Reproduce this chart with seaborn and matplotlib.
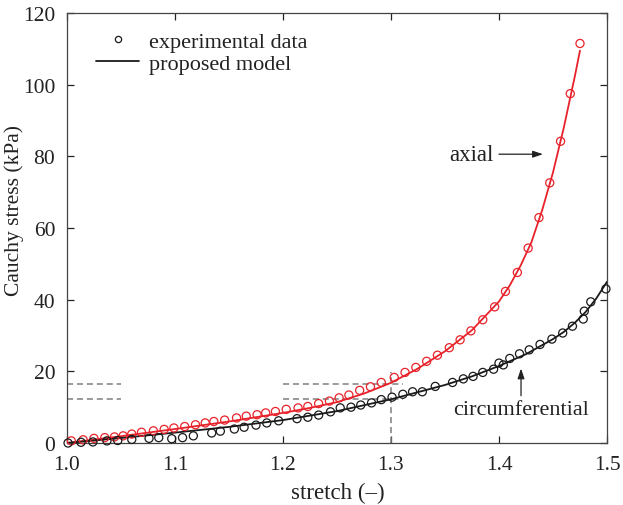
import numpy as np
import pandas as pd
import matplotlib
matplotlib.use("Agg")
import matplotlib.pyplot as plt
from matplotlib.lines import Line2D
import seaborn as sns

# ---- data ----
axial_x = [1.004, 1.015, 1.025, 1.035, 1.044, 1.052, 1.060, 1.069, 1.080, 1.090,
           1.099, 1.109, 1.119, 1.128, 1.136, 1.146, 1.157, 1.166, 1.176, 1.184,
           1.193, 1.203, 1.214, 1.223, 1.233, 1.243, 1.252, 1.261, 1.271, 1.281,
           1.291, 1.303, 1.313, 1.323, 1.333, 1.343, 1.354, 1.364, 1.374, 1.385,
           1.396, 1.406, 1.417, 1.427, 1.437, 1.447, 1.457, 1.466, 1.475]
axial_y = [0.6, 0.9, 1.3, 1.5, 1.7, 2.0, 2.5, 3.0, 3.4, 3.8,
           4.2, 4.6, 5.1, 5.6, 6.0, 6.4, 7.0, 7.5, 7.9, 8.4,
           8.8, 9.4, 9.8, 10.2, 11.0, 11.7, 12.6, 13.4, 14.7, 15.7,
           16.9, 18.3, 19.7, 21.1, 22.8, 24.5, 26.6, 28.8, 31.3, 34.4,
           38.0, 42.3, 47.6, 54.4, 62.9, 72.6, 84.2, 97.5, 111.5]

circ_x = [1.001, 1.013, 1.024, 1.037, 1.047, 1.060, 1.076, 1.085, 1.097, 1.107,
          1.117, 1.134, 1.142, 1.155, 1.164, 1.175, 1.185, 1.196, 1.213, 1.223,
          1.233, 1.244, 1.253, 1.263, 1.272, 1.282, 1.291, 1.301, 1.311, 1.320,
          1.329, 1.341, 1.357, 1.367, 1.376, 1.385, 1.395, 1.400, 1.404, 1.410,
          1.419, 1.428, 1.438, 1.449, 1.459, 1.468, 1.478, 1.479, 1.485, 1.499]
circ_y = [0.0, 0.2, 0.3, 0.6, 0.7, 1.0, 1.3, 1.5, 1.2, 1.5,
          2.0, 2.8, 3.3, 3.9, 4.4, 5.0, 5.6, 6.2, 6.8, 7.2,
          7.8, 8.7, 9.8, 10.0, 10.6, 11.2, 12.1, 12.8, 13.6, 14.3,
          14.3, 15.8, 16.9, 17.9, 18.6, 19.7, 20.6, 22.3, 21.8, 23.6,
          24.9, 26.0, 27.5, 29.0, 30.7, 32.6, 34.6, 36.8, 39.4, 43.0]

axial_model_x = [1.00, 1.05, 1.10, 1.15, 1.20, 1.225, 1.25, 1.275, 1.30, 1.325,
                 1.35, 1.375, 1.40, 1.41, 1.42, 1.43, 1.44, 1.45, 1.46, 1.47, 1.475]
axial_model_y = [0.0, 1.9, 3.9, 6.0, 8.4, 9.8, 11.4, 13.8, 16.8, 20.8,
                 25.6, 31.5, 39.5, 44.0, 49.5, 56.0, 65.0, 75.5, 88.0, 102.0, 109.5]

circ_model_x = [1.00, 1.05, 1.10, 1.15, 1.20, 1.25, 1.30, 1.35, 1.375, 1.40,
                1.425, 1.45, 1.46, 1.47, 1.48, 1.49, 1.50]
circ_model_y = [0.0, 1.4, 2.9, 4.5, 6.4, 8.9, 12.2, 16.2, 18.6, 21.5,
                24.8, 29.0, 31.0, 33.5, 36.5, 40.3, 45.0]

# reference (dashed) guide levels
guide_levels = [16.5, 12.3]
guide_vline_x = 1.3
guide_vline_top = 19.7

x_ticks = [1.0, 1.1, 1.2, 1.3, 1.4, 1.5]
x_ticklabels = ["1.0", "1.1", "1.2", "1.3", "1.4", "1.5"]
y_ticks = [0, 20, 40, 60, 80, 100, 120]

RED = "#e8222a"
BLACK = "#1a1a1a"
GREY = "#7f7f7f"
TXT = "#222222"

sns.set_theme(style="ticks")
plt.rcParams["font.family"] = ["Liberation Serif", "DejaVu Serif"]

fig = plt.figure(figsize=(6.23, 5.06), dpi=100)
ax = fig.add_axes([0.1075, 0.1225, 0.8668, 0.8498])

# dashed guides
dash = (0, (4, 2.5))
for lv in guide_levels:
    ax.plot([1.0, 1.05], [lv, lv], ls=dash, color=GREY, lw=1.1, zorder=1)
    ax.plot([1.2, 1.311], [lv, lv], ls=dash, color=GREY, lw=1.1, zorder=1)
ax.plot([guide_vline_x, guide_vline_x], [0, guide_vline_top], ls=dash,
        color=GREY, lw=1.1, zorder=1)

df_am = pd.DataFrame({"x": axial_model_x, "y": axial_model_y})
df_cm = pd.DataFrame({"x": circ_model_x, "y": circ_model_y})
df_a = pd.DataFrame({"x": axial_x, "y": axial_y})
df_c = pd.DataFrame({"x": circ_x, "y": circ_y})

sns.lineplot(data=df_am, x="x", y="y", ax=ax, color=RED, lw=1.3, sort=False,
             estimator=None, zorder=3)
sns.lineplot(data=df_cm, x="x", y="y", ax=ax, color=BLACK, lw=1.3, sort=False,
             estimator=None, zorder=3)
sns.scatterplot(data=df_a, x="x", y="y", ax=ax, marker="o", s=34,
                facecolors="none", edgecolor=RED, linewidth=0.9, zorder=4,
                clip_on=False)
sns.scatterplot(data=df_c, x="x", y="y", ax=ax, marker="o", s=34,
                facecolors="none", edgecolor=BLACK, linewidth=0.9, zorder=4,
                clip_on=False)

ax.set_xlim(1.0, 1.5)
ax.set_ylim(0, 120)
ax.set_xticks(x_ticks)
ax.set_xticklabels(x_ticklabels)
ax.set_yticks(y_ticks)
ax.tick_params(direction="in", length=5, width=0.9, top=True, right=True,
               labelsize=15.5, colors=TXT, pad=8.5)
for sp in ax.spines.values():
    sp.set_linewidth(0.9)
    sp.set_color("#444444")

ax.set_xlabel("stretch (–)", fontsize=16.5, color=TXT)
ax.xaxis.set_label_coords(0.501, -0.090)
ax.set_ylabel("Cauchy stress (kPa)", fontsize=15.5, color=TXT)
ax.yaxis.set_label_coords(-0.080, 0.544)

# annotations
ax.text(1.3747, 80.6, "axial", fontsize=16.5, ha="center", va="center", color=TXT)
ax.annotate("", xy=(1.4407, 80.6), xytext=(1.400, 80.6),
            arrowprops=dict(arrowstyle="-|>,head_length=0.5,head_width=0.17",
                            color=TXT, lw=0.9, shrinkA=0, shrinkB=0))
ax.text(1.420, 9.4, "circumferential", fontsize=16, ha="center", va="center",
        color=TXT)
ax.annotate("", xy=(1.4204, 20.8), xytext=(1.4204, 13.2),
            arrowprops=dict(arrowstyle="-|>,head_length=0.5,head_width=0.17",
                            color=TXT, lw=0.9, shrinkA=0, shrinkB=0))

handles = [Line2D([], [], ls="none", marker="o", markersize=4.5, markerfacecolor="none",
                  markeredgecolor=BLACK, markeredgewidth=0.9),
           Line2D([], [], color=BLACK, lw=1.3)]
fs_leg = 16
leg = ax.legend(handles, ["experimental data", "proposed model"], loc="upper left",
                bbox_to_anchor=(0.037, 0.978), frameon=False, fontsize=fs_leg,
                handlelength=1.95, handletextpad=0.45, labelspacing=0.05,
                borderaxespad=0.0)
for t in leg.get_texts():
    t.set_color(TXT)

fig.savefig("out.png", dpi=100)
